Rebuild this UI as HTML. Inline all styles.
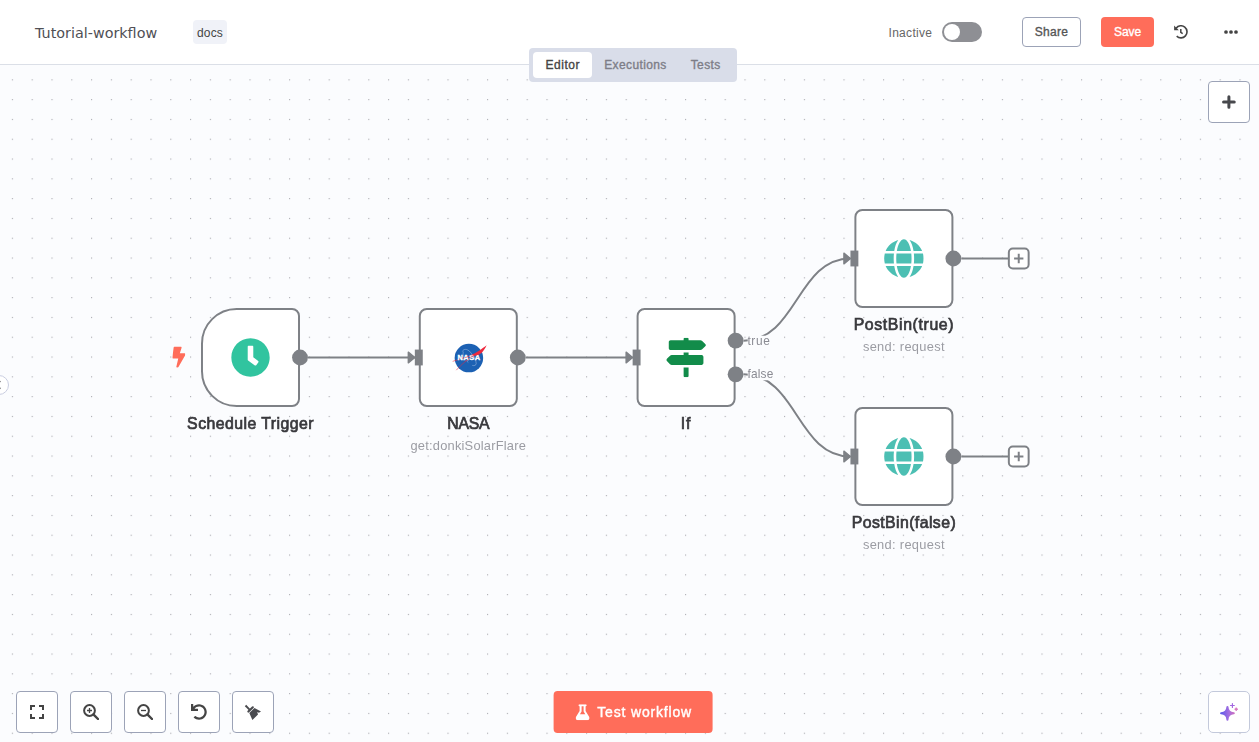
<!DOCTYPE html>
<html lang="en">
<head>
<meta charset="utf-8">
<title>Tutorial-workflow - n8n</title>
<style>
*{box-sizing:border-box;margin:0;padding:0}
html,body{width:1259px;height:742px;overflow:hidden;background:#fbfcfe;font-family:"Liberation Sans","DejaVu Sans",sans-serif;color:#555;}
.abs{position:absolute}
#header{position:absolute;left:0;top:0;width:1259px;height:65px;background:#fff;border-bottom:1px solid #dbdfe7}
#title{position:absolute;left:35px;top:22.700px;font-family:"DejaVu Sans",sans-serif;font-size:14.350px;line-height:20px;color:#4f4f55;white-space:nowrap}
#tag{position:absolute;left:193px;top:20px;width:34px;height:24px;border-radius:4px;background:#f0f2f8;font-size:12px;line-height:26.400px;text-align:center;color:#444;letter-spacing:0.170px;overflow:hidden}
#canvas{position:absolute;left:0;top:65px;width:1259px;height:677px;background:#fbfcfe;overflow:hidden}
#tabs{position:absolute;left:529px;top:48.200px;width:208px;height:33.400px;border-radius:4px;background:#d9dde9}
#tabs .t{position:absolute;top:4px;height:25.600px;line-height:26.600px;font-size:12px;font-weight:normal;-webkit-text-stroke:0.350px #7d7d87;color:#7d7d87;text-align:center;border-radius:4px;white-space:nowrap}
#tabs .t.act{background:#fff;color:#444;-webkit-text-stroke-color:#444}
.btn{position:absolute;border-radius:4px;font-size:12px;font-weight:normal;text-align:center;white-space:nowrap}
.sq{position:absolute;width:42px;height:42px;border:1px solid #9ca3b7;border-radius:4px;background:#fff}

#vp{position:absolute;left:201.25px;top:308px;width:0;height:0;transform:scale(0.99);transform-origin:0 0}
.node{position:absolute;width:100px;height:100px;border:2px solid #7e8186;border-radius:8px;background:#fff}
.node.trig{border-radius:36px 8px 8px 36px}
.lbl{position:absolute;width:300px;margin-left:-100px;text-align:center;font-size:16px;line-height:20px;font-weight:normal;-webkit-text-stroke:0.700px #38383c;color:#38383c;white-space:nowrap}
.sub{position:absolute;width:300px;margin-left:-100px;text-align:center;font-size:13px;line-height:16px;color:#9b9ca3;white-space:nowrap}
.plbl{position:absolute;font-size:12px;line-height:11px;color:#8a8b93;background:#fbfcfe;white-space:nowrap;padding:0 1.5px 0 0.5px}
</style>
</head>
<body>
<div id="canvas">
<svg class="abs" style="left:0;top:0" width="1259" height="677"><defs><pattern id="dots" x="1.950" y="4.400" width="19.8" height="19.8" patternUnits="userSpaceOnUse"><rect x="10" y="10" width="1" height="1" fill="#94959b"/></pattern></defs><rect id="dotsrect" width="1259" height="677" fill="url(#dots)"/></svg>
</div>

<div id="vp">
<svg class="abs" style="left:-300px;top:-300px;overflow:visible" width="1400" height="900" viewBox="-300 -300 1400 900">
 <defs><g id="arr"><polygon points="-6.600,-5.400 0,0 -6.600,5.400" fill="#7e8186" stroke="#7e8186" stroke-width="1.400" stroke-linejoin="round"/></g></defs>
 <g fill="none" stroke="#7e8186" stroke-width="2">
  <path d="M108,50 L216,50"/>
  <path d="M328,50 L436,50"/>
  <path d="M548,33 C602,33 602,-50 656,-50"/>
  <path d="M548,67 C602,67 602,150 656,150"/>
  <path d="M768,-50 L816,-50"/>
  <path d="M768,150 L816,150"/>
 </g>
 <use href="#arr" x="216" y="50"/>
 <use href="#arr" x="436" y="50"/>
 <use href="#arr" x="656" y="-50"/>
 <use href="#arr" x="656" y="150"/>
</svg>
<div class="node trig" style="left:0;top:0"></div>
<div class="node" style="left:220px;top:0"></div>
<div class="node" style="left:440px;top:0"></div>
<div class="node" style="left:660px;top:-100px"></div>
<div class="node" style="left:660px;top:100px"></div>
<svg class="abs" style="left:-300px;top:-300px;overflow:visible" width="1400" height="900" viewBox="-300 -300 1400 900">
 <g fill="#7e8186">
  <circle cx="100" cy="50" r="8"/>
  <rect x="216" y="42" width="8" height="16"/>
  <circle cx="320" cy="50" r="8"/>
  <rect x="436" y="42" width="8" height="16"/>
  <circle cx="540" cy="33" r="8"/>
  <circle cx="540" cy="67" r="8"/>
  <rect x="656" y="-58" width="8" height="16"/>
  <rect x="656" y="142" width="8" height="16"/>
  <circle cx="760" cy="-50" r="8"/>
  <circle cx="760" cy="150" r="8"/>
 </g>
 <g fill="#fff" stroke="#7e8186" stroke-width="2">
  <rect x="816" y="-60" width="20" height="20" rx="4"/>
  <rect x="816" y="140" width="20" height="20" rx="4"/>
 </g>
 <g stroke="#7e8186" stroke-width="2" fill="none"><path d="M821.300,-50h9.400M826,-54.700v9.400M821.300,150h9.400M826,145.300v9.400"/></g>
</svg>

<svg class="abs" style="left:-29.400px;top:38.900px" width="13.500" height="21.500" viewBox="0 0 320 512"><path fill="#ff6d5a" d="M296 160H180.600l42.600-129.800C227.200 15 215.700 0 200 0H56C44 0 33.800 8.900 32.200 20.800l-32 240C-1.700 275.200 9.500 288 24 288h118.700L96.600 482.500c-3.600 15.200 8 29.500 23.300 29.500 8.400 0 16.400-4.400 20.800-12l176-304c9.300-15.900-2.200-36-20.700-36z"/></svg>
<svg class="abs" style="left:30px;top:30px" width="40" height="40" viewBox="0 0 512 512"><path fill="#31c49f" d="M256 8C119 8 8 119 8 256s111 248 248 248 248-111 248-248S393 8 256 8zm57.100 350.100L224.900 294c-3.100-2.300-4.900-5.900-4.900-9.700V116c0-6.600 5.400-12 12-12h48c6.600 0 12 5.400 12 12v137.700l63.500 46.200c5.400 3.900 6.500 11.400 2.600 16.800l-28.200 38.800c-3.900 5.300-11.400 6.500-16.800 2.600z"/></svg>
<svg class="abs" style="left:250px;top:30px;overflow:visible" width="40" height="40" viewBox="0 0 40 40"><circle cx="20.600" cy="20.600" r="14.400" fill="#1c61b3"/><path d="M14 14C15 11 19 11 22 14.500C25 18 28 22 28 26C28 28 26 28.500 24 28M15 14C14 18 16 22 20 25" fill="none" stroke="#b9cdea" stroke-width="0.450"/><path d="M25,17.400L4.200,23.900M26,18.300C20,21 13,27 7.900,32.800" fill="none" stroke="#ee293d" stroke-width="0.550"/><text x="20.700" y="22.800" font-family="Liberation Sans,sans-serif" font-weight="bold" font-size="7.500" fill="#fff" stroke="#fff" stroke-width="0.350" text-anchor="middle" letter-spacing="0.550">NASA</text><path d="M38.500,7.700C36.500,9.300 34,11 33,11.700C31,13 28,15.500 23.500,17.200C25,18.400 27,18.200 28.100,17.900C30,17.300 32,16.500 33,15.700C35,14 37,11 38.500,7.700Z" fill="#ee293d"/><path d="M25,17.400L14,20.900M26,18.300C23,19.600 20,21.600 17,24" fill="none" stroke="#ee293d" stroke-width="0.500" opacity="0.700"/></svg>
<svg class="abs" style="left:470px;top:30px" width="40" height="40" viewBox="0 0 512 512"><path fill="#128c4a" d="M507.310 84.690L464 41.370c-6-6-14.140-9.370-22.630-9.370H288V16c0-8.840-7.160-16-16-16h-32c-8.840 0-16 7.160-16 16v16H56c-13.250 0-24 10.750-24 24v80c0 13.250 10.750 24 24 24h385.370c8.490 0 16.620-3.370 22.630-9.370l43.310-43.310c6.250-6.260 6.250-16.380 0-22.630zM224 496c0 8.840 7.160 16 16 16h32c8.840 0 16-7.160 16-16V384h-64v112zm232-272H288v-32h-64v32H70.630c-8.490 0-16.620 3.370-22.630 9.370L4.690 276.690c-6.250 6.250-6.250 16.380 0 22.630L48 342.630c6 6 14.140 9.370 22.630 9.370H456c13.250 0 24-10.750 24-24v-80c0-13.250-10.750-24-24-24z"/></svg>
<svg class="abs g1" style="left:690.350px;top:-70px" width="40" height="40" viewBox="0 0 496 512" preserveAspectRatio="none"><path id="globe" fill="#4cbfb3" d="M336.500 160C322 70.700 287.800 8 248 8s-74 62.700-88.500 152h177zM152 256c0 22.200 1.200 43.500 3.300 64h185.300c2.100-20.500 3.300-41.800 3.300-64s-1.200-43.500-3.300-64H155.300c-2.100 20.500-3.300 41.800-3.300 64zm324.700-96c-28.600-67.900-86.500-120.400-158-141.600 24.400 33.800 41.200 84.700 50 141.600h108zM177.200 18.400C105.800 39.600 47.800 92.100 19.300 160h108c8.700-56.900 25.500-107.800 49.900-141.600zM487.400 192H372.700c2.100 21 3.300 42.500 3.300 64s-1.200 43-3.300 64h114.600c5.500-20.500 8.600-41.800 8.600-64s-3.100-43.500-8.500-64zM120 256c0-21.500 1.200-43 3.300-64H8.600C3.200 212.500 0 233.800 0 256s3.200 43.500 8.600 64h114.600c-2-21-3.200-42.500-3.200-64zm39.500 96c14.500 89.300 48.700 152 88.500 152s74-62.700 88.500-152h-177zm159.300 141.600c71.400-21.200 129.400-73.700 158-141.600h-108c-8.800 56.900-25.600 107.800-50 141.600zM19.300 352c28.600 67.900 86.500 120.400 158 141.600-24.400-33.800-41.200-84.700-50-141.600h-108z"/></svg>
<svg class="abs" style="left:690.350px;top:130px" width="40" height="40" viewBox="0 0 496 512" preserveAspectRatio="none"><use href="#globe"/></svg>
<div class="plbl" style="left:551.5px;top:27.800px;letter-spacing:0.6px">true</div>
<div class="plbl" style="left:551.5px;top:61.800px;letter-spacing:0.17px">false</div>
<div class="lbl" style="left:0;top:106.6px;letter-spacing:0.44px">Schedule Trigger</div>
<div class="lbl" style="left:220px;top:106.6px;letter-spacing:-0.27px">NASA</div>
<div class="sub" style="left:220px;top:130.600px;letter-spacing:0.215px">get:donkiSolarFlare</div>
<div class="lbl" style="left:440px;top:106.6px;letter-spacing:0.88px">If</div>
<div class="lbl" style="left:660px;top:6.6px;letter-spacing:0.63px">PostBin(true)</div>
<div class="sub" style="left:660px;top:30.6px;letter-spacing:0.31px">send: request</div>
<div class="lbl" style="left:660px;top:206.6px;letter-spacing:0.42px">PostBin(false)</div>
<div class="sub" style="left:660px;top:230.600px;letter-spacing:0.31px">send: request</div>
</div>
<div id="header">
 <div id="title">Tutorial-workflow</div>
 <div id="tag">docs</div>
 <div class="abs" id="inactive" style="left:888.500px;top:22.500px;font-size:12px;line-height:20px;color:#666;letter-spacing:0.300px">Inactive</div>
 <div class="abs" style="left:942px;top:22px;width:40px;height:20px;border-radius:10px;background:#8e8f94"><div class="abs" style="left:2px;top:2px;width:16px;height:16px;border-radius:8px;background:#fff"></div></div>
 <div class="btn" id="share" style="left:1022px;top:17px;width:59px;height:30px;line-height:28px;border:1px solid #9ca3b7;background:#fff;color:#555;-webkit-text-stroke:0.350px #555;letter-spacing:0.250px">Share</div>
 <div class="btn" id="save" style="left:1101px;top:17px;width:53px;height:30px;line-height:30px;background:#ff6d5a;color:#fff;-webkit-text-stroke:0.350px #fff;letter-spacing:-0.100px">Save</div>

 <svg class="abs" style="left:1174px;top:25px" width="14" height="14" viewBox="0 0 14 14"><path d="M2.100 3.200A6.050 6.050 0 1 1 2.700 11.150" stroke="#444" stroke-width="1.600" fill="none"/><path d="M0.100 0.600V5.200H4.800z" fill="#444"/><path d="M6.800 3.900V7.400L8.700 8.700" stroke="#444" stroke-width="1.500" fill="none"/></svg>
 <svg class="abs" style="left:1224px;top:30px" width="14" height="4" viewBox="0 0 14 4"><circle cx="2" cy="2" r="1.850" fill="#444"/><circle cx="7" cy="2" r="1.850" fill="#444"/><circle cx="12" cy="2" r="1.850" fill="#444"/></svg>
</div>
<div id="tabs">
 <div class="t act" style="left:4.300px;width:58.900px;letter-spacing:0.550px">Editor</div>
 <div class="t" style="left:63.200px;width:86.500px;letter-spacing:0.380px">Executions</div>
 <div class="t" style="left:149.700px;width:54px;letter-spacing:0.400px">Tests</div>
</div>

<div class="sq" style="left:1208px;top:81px"><svg class="abs" style="left:0;top:0" width="40" height="40" viewBox="0 0 40 40"><path d="M19.900 14.650v10.700M14.550 20h10.700" stroke="#47484c" stroke-width="3" stroke-linecap="round" fill="none"/></svg></div>
<div class="abs" style="left:-11px;top:375px;width:20px;height:20px;border-radius:50%;background:#fff;border:1px solid #c9cde0"></div><svg class="abs" style="left:0;top:375px" width="6" height="20" viewBox="0 0 6 20"><path d="M0.500 6.050L-3.100 9.900L0.500 13.750" stroke="#6a6a6e" stroke-width="1.200" fill="none"/></svg>
<div class="sq" style="left:16px;top:691px"><svg class="abs" style="left:13px;top:13px" width="14" height="14" viewBox="0 0 14 14"><path d="M1,5V1H5M9,1H13V5M13,9V13H9M5,13H1V9" stroke="#444" stroke-width="2" fill="none"/></svg></div>
<div class="sq" style="left:70px;top:691px"><svg class="abs" style="left:12px;top:12px" width="16" height="16" viewBox="0 0 16 16"><circle cx="6.500" cy="6.500" r="5.400" stroke="#444" stroke-width="2" fill="none"/><path d="M10.600 10.600L15 15" stroke="#444" stroke-width="2.400" stroke-linecap="round"/><path d="M4 6.500h5M6.500 4v5" stroke="#444" stroke-width="1.300"/></svg></div>
<div class="sq" style="left:124px;top:691px"><svg class="abs" style="left:12px;top:12px" width="16" height="16" viewBox="0 0 16 16"><circle cx="6.500" cy="6.500" r="5.400" stroke="#444" stroke-width="2" fill="none"/><path d="M10.600 10.600L15 15" stroke="#444" stroke-width="2.400" stroke-linecap="round"/><path d="M4 6.500h5" stroke="#444" stroke-width="1.300"/></svg></div>
<div class="sq" style="left:178px;top:691px"><svg class="abs" style="left:12px;top:12px" width="16" height="16" viewBox="0 0 512 512"><path fill="#444" d="M212.333 224.333H12c-6.627 0-12-5.373-12-12V12C0 5.373 5.373 0 12 0h48c6.627 0 12 5.373 12 12v78.112C117.773 39.279 184.260 7.470 258.175 8.007c136.906.994 246.448 111.623 246.157 248.532C504.041 393.258 393.120 504 256.333 504c-64.089 0-122.496-24.313-166.510-64.215-5.099-4.622-5.334-12.554-.467-17.420l33.967-33.967c4.474-4.474 11.662-4.717 16.401-.525C170.760 415.336 211.580 432 256.333 432c97.268 0 176-78.716 176-176 0-97.267-78.716-176-176-176-58.496 0-110.280 28.476-142.274 72.333h98.274c6.627 0 12 5.373 12 12v48c0 6.627-5.373 12-12 12z"/></svg></div>
<div class="sq" style="left:232px;top:691px"><svg class="abs" style="left:0;top:0" width="40" height="40" viewBox="0 0 40 40"><path d="M12.500 13.500L16.800 17.800" stroke="#4a4b4f" stroke-width="1.900" stroke-linecap="butt"/><path d="M15.400 19.500L19.800 15.300" stroke="#4a4b4f" stroke-width="2.200" stroke-linecap="round"/><path d="M16.300 21.100L21.500 15.900L28 19.400L25.900 20.700L24.200 20L25 22.400L19.400 28z" fill="#4a4b4f"/></svg></div>
<div class="btn" id="test" style="left:553px;transform:translateX(0.600px);top:691px;width:159px;height:42px;background:#ff6d5a;color:#fff;font-size:14px;line-height:42px;text-align:left;-webkit-text-stroke:0.400px #fff"><svg class="abs" style="left:21px;top:13px;transform:translate(1px,0.300px)" width="14" height="16" viewBox="0 0 448 512"><path fill="#fff" d="M437.200 403.500L320 215V64h8c13.300 0 24-10.700 24-24V24c0-13.300-10.700-24-24-24H120c-13.300 0-24 10.700-24 24v16c0 13.300 10.700 24 24 24h8v151L10.800 403.500C-18.500 450.600 15.300 512 70.900 512h306.200c55.700 0 89.400-61.500 60.100-108.500zM137.900 320l48.200-77.600c3.700-5.200 5.800-11.600 5.800-18.400V64h64v160c0 6.900 2.200 13.200 5.800 18.400l48.200 77.600h-172z"/></svg><span class="abs" style="left:43.700px;top:0;letter-spacing:0.820px">Test workflow</span></div>
<div class="sq" style="left:1208px;top:691px;border-color:#c3c9db;border-radius:5px"><svg class="abs" style="left:9px;top:9px" width="22" height="22" viewBox="0 0 22 22"><defs><linearGradient id="aig" gradientUnits="userSpaceOnUse" x1="2" x2="20" y1="0" y2="0"><stop offset="0" stop-color="#5557ea"/><stop offset="0.5" stop-color="#a56fe0"/><stop offset="1" stop-color="#e56ca8"/></linearGradient></defs><path d="M9.45,6.000000000000001 Q9.85,11.9 15.75,12.3 Q9.85,12.700000000000001 9.45,18.6 Q9.049999999999999,12.700000000000001 3.1499999999999995,12.3 Q9.049999999999999,11.9 9.45,6.000000000000001Z" fill="url(#aig)" stroke="url(#aig)" stroke-width="2.100" stroke-linejoin="round"/><path d="M14.400 2.600v3.800M12.500 4.500h3.800" stroke="#a266e0" stroke-width="1.150" stroke-linecap="round" fill="none"/><path d="M18.200 6.700Q18.500 7.900 19.700 8.200Q18.500 8.500 18.200 9.700Q17.900 8.500 16.700 8.200Q17.900 7.900 18.200 6.700Z" fill="#d46cbc" stroke="#d46cbc" stroke-width="0.900" stroke-linejoin="round"/></svg></div>
</body>
</html>
